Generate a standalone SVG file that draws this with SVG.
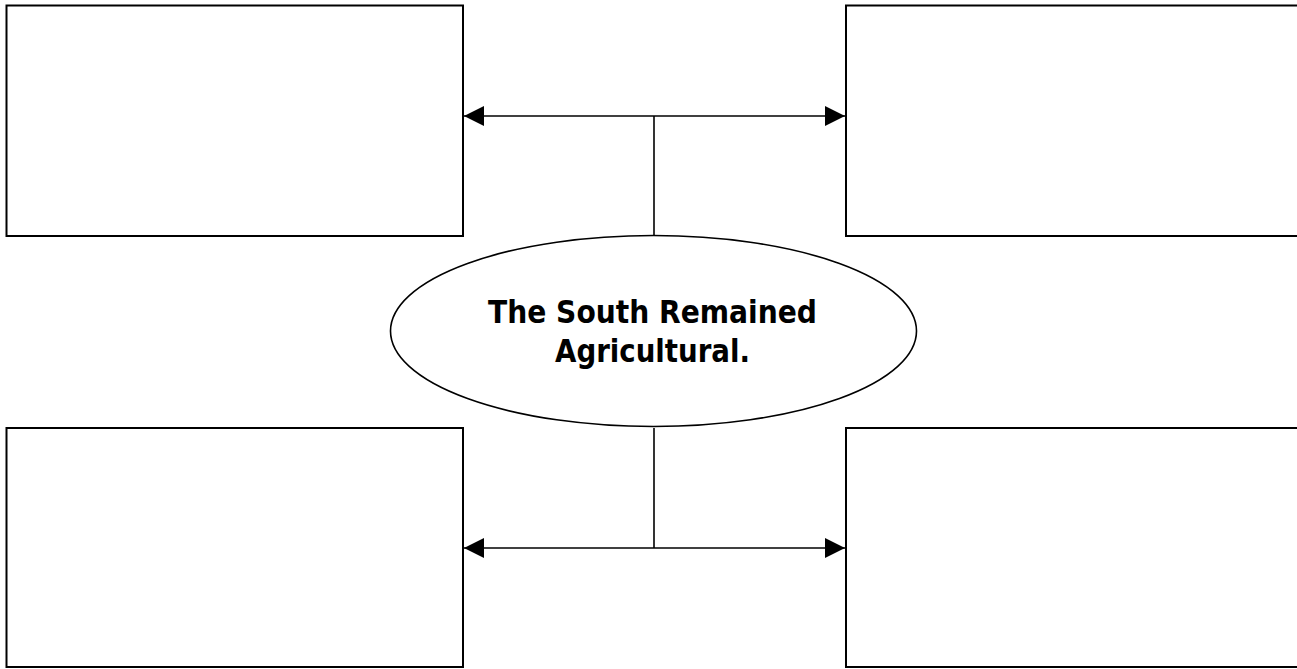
<svg xmlns="http://www.w3.org/2000/svg" width="1297" height="669" viewBox="0 0 1297 669">
<style>
.box{fill:#fff;stroke:#000;stroke-width:2}
.conn{fill:none;stroke:#000;stroke-width:1.6}
.lbl{font-family:"DejaVu Sans",Verdana,sans-serif;font-weight:bold;font-size:31.5px;fill:#000;text-anchor:middle}
</style>
<defs>
<marker id="ah" viewBox="0 0 20 20" refX="20" refY="10" markerWidth="20" markerHeight="20" markerUnits="userSpaceOnUse" orient="auto-start-reverse">
<path d="M0,0 L20,10 L0,20 Z" fill="#000"/>
</marker>
</defs>
<rect width="1297" height="669" fill="#fff"/>
<g id="box-top-left"><rect class="box" x="6.5" y="5.5" width="456.5" height="230.5"/></g>
<g id="box-top-right"><rect class="box" x="846" y="5.5" width="470" height="230.5"/></g>
<g id="box-bottom-left"><rect class="box" x="6.5" y="428" width="456.5" height="239"/></g>
<g id="box-bottom-right"><rect class="box" x="846" y="428" width="470" height="239"/></g>
<g id="connectors">
<path class="conn" d="M464,116 L845,116" marker-start="url(#ah)" marker-end="url(#ah)"/>
<path class="conn" d="M654,116 L654,236"/>
<path class="conn" d="M464,548 L845,548" marker-start="url(#ah)" marker-end="url(#ah)"/>
<path class="conn" d="M654,428 L654,548"/>
</g>
<g id="center">
<ellipse cx="653.5" cy="331" rx="263" ry="95.5" fill="#fff" stroke="#000" stroke-width="1.6"/>
<text class="lbl" x="652.5" y="323" textLength="329" lengthAdjust="spacingAndGlyphs">The South Remained</text>
<text class="lbl" x="652.5" y="362" textLength="195" lengthAdjust="spacingAndGlyphs">Agricultural.</text>
</g>
</svg>
